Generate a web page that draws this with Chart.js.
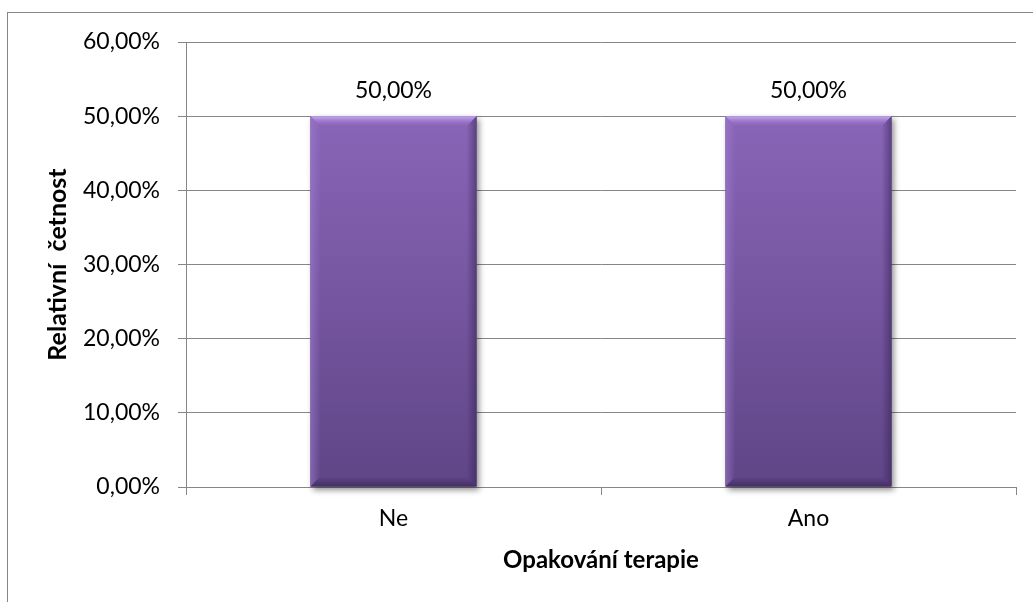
<!DOCTYPE html>
<html>
<head>
<meta charset="utf-8">
<script src="https://cdn.jsdelivr.net/npm/chart.js@4/dist/chart.umd.min.js"></script>
<style>
  html, body { margin: 0; padding: 0; background: #ffffff; }
  #wrap { width: 1033px; height: 602px; position: relative; }
</style>
</head>
<body>
<div id="wrap"><canvas id="c" width="1033" height="602"></canvas></div>
<script>
// Data
const categories = ['Ne', 'Ano'];
const relFreq = [0.5, 0.5];          // relative frequency (fraction)
const yTicks = [0, 0.1, 0.2, 0.3, 0.4, 0.5, 0.6];

const axisTitleY = 'Relativní  četnost';
const axisTitleX = 'Opakování terapie';

const FONT = 'Lato, "Open Sans", "DejaVu Sans", sans-serif';
const GRID = '#868686';

function pct(v) {
  return (v * 100).toFixed(2).replace('.', ',') + '%';
}

// Outer frame of the chart object
const framePlugin = {
  id: 'frame',
  beforeDraw(chart) {
    const ctx = chart.ctx;
    ctx.save();
    ctx.fillStyle = '#ffffff';
    ctx.fillRect(0, 0, chart.width, chart.height);
    ctx.strokeStyle = GRID;
    ctx.lineWidth = 1;
    ctx.strokeRect(7.5, 12.5, chart.width + 20, chart.height + 20);
    ctx.restore();
  }
};

// Soft drop shadow behind each bar
const shadowPlugin = {
  id: 'barShadow',
  beforeDatasetsDraw(chart) {
    const ctx = chart.ctx;
    const meta = chart.getDatasetMeta(0);
    ctx.save();
    meta.data.forEach(bar => {
      const { x, y, base, width } = bar.getProps(['x', 'y', 'base', 'width'], true);
      const l = x - width / 2;
      ctx.shadowColor = 'rgba(0,0,0,0.45)';
      ctx.shadowBlur = 6;
      ctx.shadowOffsetX = 2;
      ctx.shadowOffsetY = 3;
      ctx.fillStyle = '#5a4080';
      ctx.fillRect(l, y, width, base - y);
    });
    ctx.restore();
  }
};

// Bevelled edges on the bars and value labels above them
const bevelPlugin = {
  id: 'bevel',
  afterDatasetsDraw(chart) {
    const ctx = chart.ctx;
    const meta = chart.getDatasetMeta(0);
    ctx.save();
    meta.data.forEach((bar, i) => {
      const { x, y, base, width } = bar.getProps(['x', 'y', 'base', 'width'], true);
      const l = x - width / 2, r = x + width / 2, t = y, b = base;
      const e = 10;

      // top edge
      let g = ctx.createLinearGradient(0, t, 0, t + e);
      g.addColorStop(0, '#c9abf5');
      g.addColorStop(1, 'rgba(140,102,186,0.2)');
      ctx.fillStyle = g;
      ctx.beginPath();
      ctx.moveTo(l, t); ctx.lineTo(r, t); ctx.lineTo(r - e, t + e); ctx.lineTo(l + e, t + e);
      ctx.closePath(); ctx.fill();

      // left edge
      g = ctx.createLinearGradient(l, 0, l + e, 0);
      g.addColorStop(0, 'rgba(160,125,210,0.55)');
      g.addColorStop(1, 'rgba(160,125,210,0)');
      ctx.fillStyle = g;
      ctx.beginPath();
      ctx.moveTo(l, t); ctx.lineTo(l + e, t + e); ctx.lineTo(l + e, b - e); ctx.lineTo(l, b);
      ctx.closePath(); ctx.fill();

      // right edge
      g = ctx.createLinearGradient(r, 0, r - e, 0);
      g.addColorStop(0, 'rgba(55,35,85,0.55)');
      g.addColorStop(1, 'rgba(55,35,85,0)');
      ctx.fillStyle = g;
      ctx.beginPath();
      ctx.moveTo(r, t); ctx.lineTo(r - e, t + e); ctx.lineTo(r - e, b - e); ctx.lineTo(r, b);
      ctx.closePath(); ctx.fill();

      // bottom edge
      g = ctx.createLinearGradient(0, b, 0, b - e);
      g.addColorStop(0, 'rgba(50,32,78,0.6)');
      g.addColorStop(1, 'rgba(50,32,78,0)');
      ctx.fillStyle = g;
      ctx.beginPath();
      ctx.moveTo(l, b); ctx.lineTo(r, b); ctx.lineTo(r - e, b - e); ctx.lineTo(l + e, b - e);
      ctx.closePath(); ctx.fill();

      // value label
      ctx.fillStyle = '#000000';
      ctx.font = '23px ' + FONT;
      ctx.textAlign = 'center';
      ctx.textBaseline = 'middle';
      ctx.fillText(pct(relFreq[i]), x, t - 26);
    });
    ctx.restore();
  }
};

new Chart(document.getElementById('c'), {
  type: 'bar',
  data: {
    labels: categories,
    datasets: [{
      data: relFreq,
      backgroundColor(ctx) {
        const area = ctx.chart.chartArea;
        if (!area) return '#7556a0';
        const yScale = ctx.chart.scales.y;
        const top = yScale.getPixelForValue(relFreq[ctx.dataIndex] ?? 0.5);
        const g = ctx.chart.ctx.createLinearGradient(0, top, 0, area.bottom);
        g.addColorStop(0, '#8a65b8');
        g.addColorStop(1, '#5f4586');
        return g;
      },
      borderWidth: 0,
      barPercentage: 0.4,
      categoryPercentage: 1.0
    }]
  },
  options: {
    responsive: false,
    animation: false,
    devicePixelRatio: 1,
    layout: { padding: { top: 42, right: 17, left: 0, bottom: 0 } },
    plugins: {
      legend: { display: false },
      tooltip: { enabled: false }
    },
    scales: {
      x: {
        grid: { drawOnChartArea: false, offset: true, tickLength: 8, color: GRID },
        border: { color: GRID, width: 1 },
        ticks: { color: '#000', font: { family: FONT, size: 23 }, padding: 10 },
        title: {
          display: true, text: axisTitleX, color: '#000',
          font: { family: FONT, size: 24, weight: 'bold' },
          padding: { top: 0, bottom: 27 }
        },
        afterFit(scale) { scale.height = 115; }
      },
      y: {
        min: 0, max: 0.6,
        afterBuildTicks(scale) { scale.ticks = yTicks.map(v => ({ value: v })); },
        grid: { color: GRID, tickLength: 8 },
        border: { color: GRID, width: 1 },
        ticks: {
          color: '#000', font: { family: FONT, size: 23 }, padding: 18,
          callback: v => pct(v)
        },
        title: {
          display: true, text: axisTitleY, color: '#000',
          font: { family: FONT, size: 25, weight: 'bold' },
          padding: { top: 43, bottom: 0 }
        },
        afterFit(scale) { scale.width = 186; }
      }
    }
  },
  plugins: [framePlugin, shadowPlugin, bevelPlugin]
});
</script>
</body>
</html>
